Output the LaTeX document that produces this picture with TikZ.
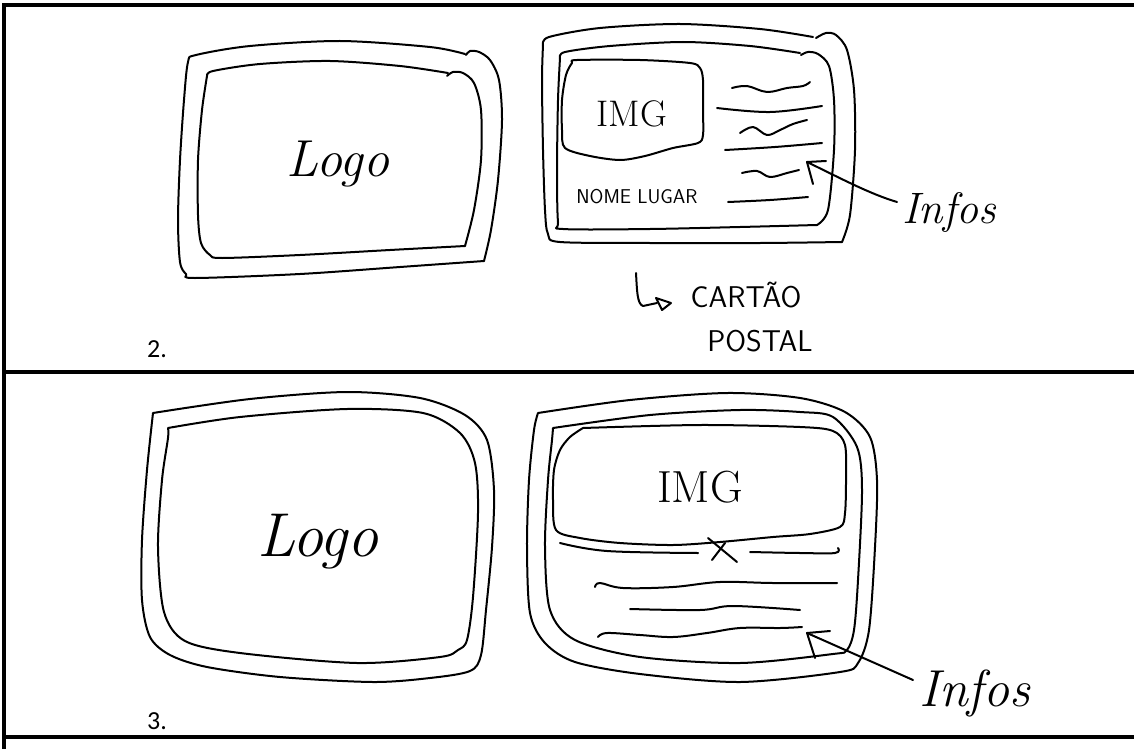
\documentclass[tikz,border=0pt]{standalone}
\usepackage{fontspec}
\newfontfamily\calib{Carlito}
\begin{document}
\begin{tikzpicture}[x=1pt,y=-1pt,
  sk/.style={line width=2.0pt, line cap=round, line join=round},
  tbl/.style={line width=3.4pt},
  logotxt/.style={inner sep=0pt, anchor=base, font=\fontsize{#1}{#1}\selectfont\itshape},
  capstxt/.style={inner sep=0pt, anchor=base, font=\fontsize{#1}{#1}\selectfont\sffamily},
  imgtxt/.style={inner sep=0pt, anchor=base, font=\fontsize{#1}{#1}\selectfont},
  numtxt/.style={inner sep=0pt, anchor=base west, font=\fontsize{26}{26}\selectfont\calib}]
\useasboundingbox (0,0) rectangle (1134,749);
% table
\draw[tbl] (4,5) -- (1134,5);
\draw[tbl] (4,372) -- (1134,372);
\draw[tbl] (4,737) -- (1134,737);
\draw[tbl] (4,3.3) -- (4,749);
\node[numtxt] (n2) at (147,357) {2.};
\node[numtxt] (n3) at (147,729) {3.};

% ===== Row 1, left card =====
\draw[sk] plot[smooth,tension=0.5] coordinates {(465,54)(430,47)(340,41)(250,46)(196,55)(188,62)(184,100)(180,160)(178,220)(180,262)(186,274)(195,278)(300,274)(400,267)(484,261)};
\draw[sk] plot[smooth,tension=0.5] coordinates {(484,261)(491,230)(498,180)(502,120)(499,80)(490,60)(479,52)(470,51)(466,55)};
\draw[sk] plot[smooth,tension=0.5] coordinates {(448,73)(400,66)(330,61)(260,64)(213,71)(207,76)};
\draw[sk] plot[smooth,tension=0.5] coordinates {(207,76)(202,110)(198,160)(198,215)(201,243)(210,255)(222,258)(300,255)(390,250)(465,246)};
\draw[sk] plot[smooth,tension=0.5] coordinates {(465,246)(474,210)(481,160)(481,110)(474,83)(463,73)(453,72)(447,76)};
\node[logotxt=52] (logo1) at (338,176) {Logo};

% ===== Row 1, right card (postcard) =====
\draw[sk] plot[smooth,tension=0.5] coordinates {(813,37)(760,29)(680,24)(600,28)(549,37)(543,45)};
\draw[sk] plot[smooth,tension=0.5] coordinates {(543,45)(542,80)(543,150)(545,210)(548,234)(560,242)(650,243)(760,243)(842,242)};
\draw[sk] plot[smooth,tension=0.5] coordinates {(842,242)(850,215)(855,150)(854,90)(847,50)(836,35)(826,33)(816,38)};
\draw[sk] plot[smooth,tension=0.5] coordinates {(800,53)(750,46)(683,42)(610,46)(565,52)(560,58)};
\draw[sk] plot[smooth,tension=0.5] coordinates {(560,58)(558,100)(557,170)(558,222)(563,229)(650,229)(740,227)(817,225)};
\draw[sk] plot[smooth,tension=0.5] coordinates {(817,225)(828,210)(834,150)(834,100)(829,66)(818,54)(808,52)(801,55)};
% IMG box
\draw[sk] plot[smooth cycle,tension=0.5] coordinates {(577,60)(640,60)(690,63)(700,68)(703,80)(703,110)(703,135)(698,143)(673,148)(645,156)(620,160)(590,156)(565,148)(562,130)(562,100)(566,75)(572,63)};
\node[imgtxt=37] (img1) at (632,127) {IMG};
% text lines
\draw[sk] plot[smooth,tension=0.6] coordinates {(732,88)(747,86)(767,92)(787,88)(803,86)(810,82)};
\draw[sk] plot[smooth,tension=0.6] coordinates {(717,108)(770,112)(822,106)};
\draw[sk] plot[smooth,tension=0.6] coordinates {(740,133)(753,127)(767,135)(780,130)(793,124)(807,120)};
\draw[sk] plot[smooth,tension=0.6] coordinates {(725,150)(775,147)(822,143)};
\draw[sk] plot[smooth,tension=0.6] coordinates {(742,173)(757,171)(770,177)(787,173)(799,170)};
\draw[sk] plot[smooth,tension=0.6] coordinates {(728,202)(770,200)(808,197)};
\node[capstxt=20] (nome) at (637,203) {NOME LUGAR};
% arrow to Infos
\node[logotxt=44] (infos1) at (949,223) {Infos};
\coordinate (tip1) at (807,162);
\coordinate (from1) at (897,202);
\draw[sk] (from1) .. controls (870,194) and (840,178) .. (tip1);
\draw[sk] (tip1) -- ++(19,-1);
\draw[sk] (tip1) -- ++(6,22);
% CARTAO POSTAL
\draw[sk] (636,273) .. controls (637,290) and (637,304) .. (643,306) -- (657,303);
\draw[sk] (656,298) -- (671,303) -- (662,310) -- cycle;
\node[capstxt=30] (cartao) at (746,307) {CARTÃO};
\node[capstxt=30] (postal) at (760,351) {POSTAL};

% ===== Row 2, left card =====
\draw[sk] plot[smooth,tension=0.5] coordinates {(153,413)(250,399)(347,392)(420,398)(465,415)(487,440)(494,490)(492,547)(486,610)(481,655)(470,671)(430,678)(373,682)(280,677)(207,667)(170,655)(150,637)(142,600)(142,540)(147,470)(153,413)};
\draw[sk] plot[smooth,tension=0.5] coordinates {(168,428)(240,417)(347,409)(423,413)(460,433)(475,463)(478,513)(473,597)(467,640)(458,650)(440,657)(357,663)(240,653)(185,641)(164,612)(158,547)(162,480)(168,438)(168,428)};
\node[logotxt=62] (logo2) at (318,556) {Logo};

% ===== Row 2, right card =====
\draw[sk] plot[smooth,tension=0.5] coordinates {(538,413)(630,400)(727,393)(800,398)(845,412)(870,437)(877,480)(875,547)(869,630)(858,663)(840,672)(740,682)(640,674)(575,662)(545,643)(530,613)(527,547)(529,480)(534,430)(538,413)};
\draw[sk] plot[smooth,tension=0.5] coordinates {(553,428)(650,415)(740,410)(800,412)(833,417)(857,447)(862,490)(858,580)(854,630)(847,650)(833,654)(740,663)(640,657)(575,640)(550,610)(545,547)(548,480)(552,440)(553,428)};
% IMG box
\draw[sk] plot[smooth,tension=0.5] coordinates {(583,428)(700,425)(800,427)(833,431)(845,445)(846,480)(845,513)(840,527)(810,534)(773,537)(720,542)(673,545)(620,543)(580,538)(556,530)(553,500)(554,470)(560,450)(570,437)(583,428)};
\node[imgtxt=45] (img2) at (700,502) {IMG};
% lines
\draw[sk] plot[smooth,tension=0.6] coordinates {(560,543)(607,551)(698,553)};
\draw[sk] plot[smooth,tension=0.6] coordinates {(750,552)(800,553)(835,553)(838,548)};
\draw[sk] (708,538) -- (737,562);
\draw[sk] (712,560) -- (725,543);
\draw[sk] plot[smooth,tension=0.6] coordinates {(595,587)(600,583)(623,588)(673,587)(720,582)(773,583)(837,583)};
\draw[sk] plot[smooth,tension=0.6] coordinates {(630,609)(700,610)(733,606)(800,610)};
\draw[sk] plot[smooth,tension=0.6] coordinates {(598,637)(607,633)(640,635)(673,637)(707,633)(740,628)(780,628)(802,627)};
% arrow to Infos
\node[logotxt=52] (infos2) at (975,706) {Infos};
\coordinate (tip2) at (807,633);
\coordinate (from2) at (913,680);
\draw[sk] (from2) -- (tip2);
\draw[sk] (tip2) -- ++(23,-2);
\draw[sk] (tip2) -- ++(8,25);
\end{tikzpicture}
\end{document}
